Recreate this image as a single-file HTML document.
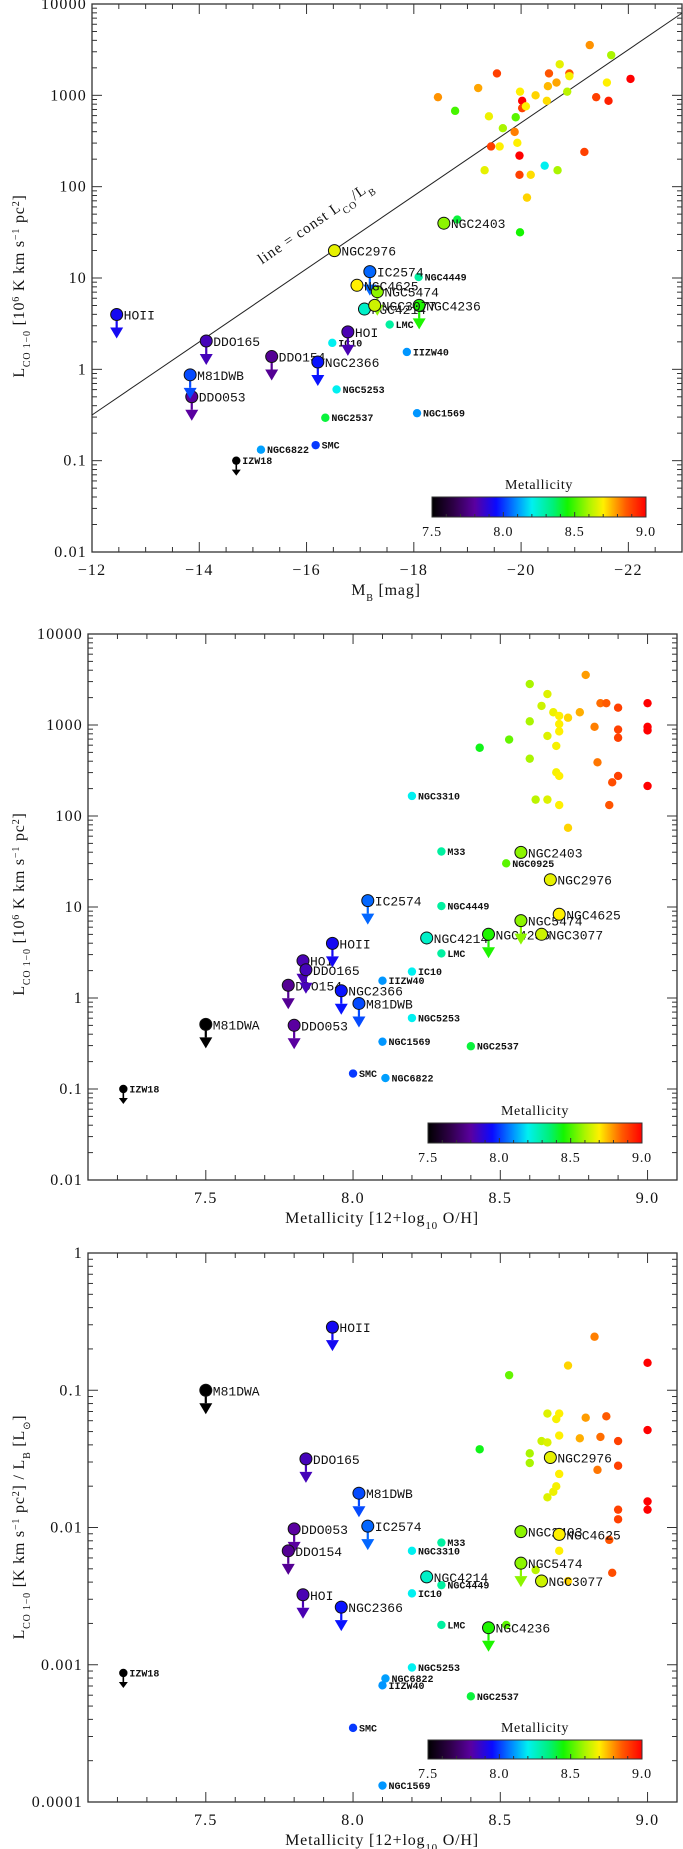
<!DOCTYPE html>
<html><head><meta charset="utf-8">
<style>
html,body{margin:0;padding:0;background:#fff;}
svg{display:block;}
text{font-family:"Liberation Serif",serif;fill:#111;}
.tk{font-size:16px;letter-spacing:1.2px;}
.ttl{font-size:16px;letter-spacing:0.8px;}
.lbl{font-family:"Liberation Mono",monospace;font-size:13px;}
.slbl{font-family:"Liberation Mono",monospace;font-size:10px;font-weight:bold;}
</style></head>
<body>
<svg id="fig" xmlns="http://www.w3.org/2000/svg" width="683" height="1849" viewBox="0 0 683 1849"></svg>
<script>
// ---- named galaxies ----
const galNames = ["IZW18","M81DWA","DDO053","DDO154","HOI","DDO165","HOII","NGC2366","M81DWB","IC2574","SMC","NGC6822","NGC1569","IIZW40","IC10","NGC5253","NGC3310","M33","NGC4449","LMC","NGC2537","NGC0925","NGC4214","NGC4236","NGC5474","NGC3077","NGC2403","NGC2976","NGC4625"];
const galZ = [7.22,7.50,7.80,7.78,7.83,7.84,7.93,7.96,8.02,8.05,8.00,8.11,8.10,8.10,8.20,8.20,8.20,8.30,8.30,8.30,8.40,8.52,8.25,8.46,8.57,8.64,8.57,8.67,8.70];
const galMB = [-14.69,null,-13.86,-15.35,-16.77,-14.13,-12.46,-16.21,-13.83,-17.18,-16.17,-15.15,-18.06,-17.87,-16.48,-16.56,null,null,-18.09,-17.55,-16.35,null,-17.08,-18.10,-17.32,-17.27,-18.56,-16.52,-16.94];
const galLogL = [-1.0,-0.29,-0.30,0.14,0.41,0.31,0.60,0.08,-0.06,1.07,-0.83,-0.88,-0.48,0.19,0.29,-0.22,2.22,1.61,1.01,0.49,-0.53,1.48,0.66,0.70,0.85,0.70,1.60,1.30,0.92];
const galLogR = [-3.06,-1.00,-2.01,-2.17,-2.49,-1.50,-0.54,-2.58,-1.75,-1.99,-3.46,-3.10,-3.88,-3.15,-2.48,-3.02,-2.17,-2.11,-2.42,-2.71,-3.23,null,-2.36,-2.73,-2.26,-2.39,-2.03,-1.49,-2.05];
const galLimit = [1,1,1,1,1,1,1,1,1,1,0,0,0,0,0,0,0,0,0,0,0,0,0,1,1,0,0,0,0];
const galBig = [0,1,1,1,1,1,1,1,1,1,0,0,0,0,0,0,0,0,0,0,0,0,1,1,1,1,1,1,1];
// ---- unlabeled galaxies, panel 1 (MB, logL, Z) ----
const p1MB = [-18.45,-18.77,-19.20,-19.40,-19.55,-19.66,-19.44,-19.60,-19.32,-19.90,-19.88,-19.93,-19.97,-19.97,-19.98,-20.02,-20.02,-20.09,-20.18,-20.11,-20.27,-20.44,-20.48,-20.50,-20.52,-20.66,-20.68,-20.72,-20.86,-20.90,-20.90,-21.18,-21.28,-21.40,-21.60,-21.63,-21.68,-22.04,-18.81,-19.98];
const p1LogL = [2.98,2.83,3.08,2.77,3.24,2.64,2.44,2.44,2.18,2.76,2.60,2.48,2.34,2.13,3.04,2.94,2.86,2.88,2.13,1.88,3.00,2.23,2.94,3.10,3.24,3.14,2.18,3.34,3.04,3.24,3.21,2.38,3.55,2.98,3.14,2.94,3.44,3.18,1.64,1.50];
const p1Z = [8.80,8.50,8.78,8.68,8.90,8.60,8.90,8.70,8.67,8.52,8.82,8.70,9.00,8.90,8.70,9.00,8.90,8.70,8.72,8.73,8.73,8.20,8.72,8.76,8.87,8.78,8.60,8.67,8.62,8.87,8.69,8.90,8.80,8.90,8.70,8.95,8.60,9.00,8.40,8.45];
// ---- unlabeled, panel 2 (Z, logL) ----
const p2Z = [8.43,8.53,8.60,8.60,8.60,8.62,8.64,8.66,8.66,8.66,8.68,8.69,8.69,8.70,8.70,8.70,8.70,8.70,8.73,8.73,8.77,8.79,8.82,8.83,8.84,8.86,8.87,8.88,8.90,8.90,8.90,8.90,9.00,9.00,9.00,9.00];
const p2LogL = [2.75,2.84,3.45,3.04,2.63,2.18,3.21,3.34,2.88,2.18,3.14,2.77,2.48,3.10,3.01,2.93,2.44,2.12,3.08,1.87,3.14,3.55,2.98,2.59,3.24,3.24,2.12,2.37,3.19,2.95,2.86,2.44,3.24,2.98,2.94,2.33];
// ---- unlabeled, panel 3 (Z, log LCO/LB) ----
const p3Z = [8.53,8.43,8.60,8.60,8.64,8.66,8.66,8.66,8.68,8.69,8.69,8.70,8.70,8.70,8.70,8.73,8.73,8.77,8.79,8.82,8.84,8.83,8.86,8.87,8.88,8.90,8.90,8.90,8.90,9.00,9.00,9.00,9.00,8.52,8.62];
const p3LogR = [-0.89,-1.43,-1.46,-1.53,-1.37,-1.38,-1.17,-1.78,-1.74,-1.70,-1.21,-1.17,-1.33,-1.61,-2.17,-0.82,-2.39,-1.35,-1.20,-0.61,-1.34,-1.58,-1.19,-2.09,-2.33,-1.37,-1.55,-1.87,-1.94,-0.80,-1.29,-1.81,-1.87,-2.71,-2.31];
// ---- tick labels ----
const yTicksL = ["0.01","0.1","1","10","100","1000","10000"];
const yTicksR = ["0.0001","0.001","0.01","0.1","1"];
const xTicksMB = ["\u221212","\u221214","\u221216","\u221218","\u221220","\u221222"];
const xTicksZ = ["7.5","8.0","8.5","9.0"];
const cbTicks = ["7.5","8.0","8.5","9.0"];
const cmStops = [[7.5,[0,0,0]],[7.65,[45,0,70]],[7.8,[90,0,160]],[7.95,[10,10,255]],[8.1,[0,150,255]],[8.2,[0,240,240]],[8.35,[0,240,120]],[8.45,[20,245,0]],[8.6,[170,245,0]],[8.7,[255,240,0]],[8.78,[255,165,0]],[8.86,[255,90,0]],[9.0,[255,0,0]]];

const NS="http://www.w3.org/2000/svg";
const svg=document.getElementById('fig');
function el(tag,attrs,parent){const e=document.createElementNS(NS,tag);for(const k in attrs)e.setAttribute(k,attrs[k]);(parent||svg).appendChild(e);return e;}
function cmap(z){if(z<=cmStops[0][0])return 'rgb(0,0,0)';for(let i=1;i<cmStops.length;i++){if(z<=cmStops[i][0]){const a=cmStops[i-1],b=cmStops[i];const t=(z-a[0])/(b[0]-a[0]);const c=a[1].map((v,j)=>Math.round(v+(b[1][j]-v)*t));return `rgb(${c.join(',')})`;}}return 'rgb(255,0,0)';}

function makePanel(P){
  const g=el('g',{});
  
  
  P.sx=v=>P.L+(v-P.xmin)/(P.xmax-P.xmin)*(P.R-P.L);
  P.sy=v=>P.B-(v-P.ymin)/(P.ymax-P.ymin)*(P.B-P.T);
  const box=el('rect',{x:P.L,y:P.T,width:P.R-P.L,height:P.B-P.T,fill:'none',stroke:'#333','stroke-width':1.3},g);
  
  
  const yt=el('g',{stroke:'#333','stroke-width':1},g);
  for(let d=P.ymin;d<=P.ymax;d++){
    const y=P.sy(d);
    el('line',{x1:P.L,x2:P.L+10,y1:y,y2:y},yt);el('line',{x1:P.R,x2:P.R-10,y1:y,y2:y},yt);
    if(d<P.ymax)for(let m=2;m<10;m++){const ym=P.sy(d+Math.log10(m));el('line',{x1:P.L,x2:P.L+5,y1:ym,y2:ym},yt);el('line',{x1:P.R,x2:P.R-5,y1:ym,y2:ym},yt);}
  }
  P.yLabels.forEach((s,i)=>{const t=el('text',{x:P.L-5,y:P.sy(P.ymin+i)+5,'text-anchor':'end',class:'tk'},g);t.textContent=s;
    
    });
  const xt=el('g',{stroke:'#333','stroke-width':1},g);
  const lo=Math.min(P.xmin,P.xmax),hi=Math.max(P.xmin,P.xmax);
  for(let k=Math.ceil(lo/P.xMinor-1e-6);k*P.xMinor<=hi+1e-6;k++){
    const v=k*P.xMinor;const x=P.sx(v);
    const major=Math.abs(v/P.xMajor-Math.round(v/P.xMajor))<1e-6;const len=major?10:5;
    el('line',{x1:x,x2:x,y1:P.B,y2:P.B-len},xt);el('line',{x1:x,x2:x,y1:P.T,y2:P.T+len},xt);
  }
  P.xLabels.forEach((s,i)=>{const t=el('text',{x:P.sx(P.xLabelStart+i*P.xLabelStep),y:P.B+23,'text-anchor':'middle',class:'tk'},g);t.textContent=s;
    
    });
  const xtT=el('text',{x:P.xTitleX,y:P.B+43,'text-anchor':'middle',class:'ttl'},g);xtT.innerHTML=P.xTitle;
  
  
  const ytT=el('text',{x:0,y:0,'text-anchor':'middle',class:'ttl',transform:`translate(24,${P.yTitleY}) rotate(-90)`},g);ytT.innerHTML=P.yTitle;
  
  
  const cb=el('g',{},g);
  
  
  const gid='grad'+P.id;const lg=el('linearGradient',{id:gid,x1:0,x2:1,y1:0,y2:0},el('defs',{},cb));
  cmStops.forEach(s=>el('stop',{offset:((s[0]-7.5)/1.5).toFixed(3),'stop-color':cmap(s[0])},lg));
  el('rect',{x:P.cbL,y:P.cbT,width:P.cbR-P.cbL,height:P.cbH,fill:`url(#${gid})`,stroke:'#333','stroke-width':1},cb);
  for(let k=0;k<=15;k++){const x=P.cbL+k/15*(P.cbR-P.cbL);el('line',{x1:x,x2:x,y1:P.cbT+P.cbH,y2:P.cbT+P.cbH-(k%5==0?5:3),stroke:'#333'},cb);}
  const ct=el('text',{x:(P.cbL+P.cbR)/2,y:P.cbT-8,'text-anchor':'middle',style:'font-size:14px;letter-spacing:0.6px'},cb);ct.textContent='Metallicity';
  
  
  cbTicks.forEach((s,i)=>{const t=el('text',{x:P.cbL+i/3*(P.cbR-P.cbL),y:P.cbT+P.cbH+19,'text-anchor':'middle',style:'font-size:14px;letter-spacing:0.8px'},cb);t.textContent=s;
    
    });
  P.g=g;return P;
}
function point(P,xv,yv,z,big,limit,label,layer){
  const x=P.sx(xv),y=P.sy(yv),c=cmap(z);
  const pg=el('g',{},layer);
  
  
  const r=big?6:4.2;
  if(limit){const tip=big?24:15,top=big?13:9,w=big?6.5:4.5;
    el('line',{x1:x,x2:x,y1:y,y2:y+top,stroke:c,'stroke-width':big?2.2:1.6},pg);
    el('polygon',{points:`${x-w},${y+top} ${x+w},${y+top} ${x},${y+tip}`,fill:c},pg);}
  el('circle',{cx:x,cy:y,r:r,fill:c,stroke:big?'#111':'none','stroke-width':1},pg);
  if(label){const t=el('text',{x:x+(big?7:6),y:y+(big?5:3.5),class:big?'lbl':'slbl'},pg);t.textContent=label;}
}
const zTitle='Metallicity [12+log<tspan baseline-shift="sub" font-size="11">10</tspan> O/H]';
const lcoTitle='L<tspan baseline-shift="sub" font-size="10">CO 1\u22120</tspan> [10<tspan baseline-shift="super" font-size="10">6</tspan> K km s<tspan baseline-shift="super" font-size="10">\u22121</tspan> pc<tspan baseline-shift="super" font-size="10">2</tspan>]';

// Panel 1
const P1=makePanel({id:1,name:'panel-lco-vs-mb',L:92,R:682,T:4,B:552,xmin:-12,xmax:-23,ymin:-2,ymax:4,xMajor:2,xMinor:0.5,
 xLabels:xTicksMB,xLabelStart:-12,xLabelStep:-2,yLabels:yTicksL,xTitle:'M<tspan baseline-shift="sub" font-size="10">B</tspan> [mag]',xTitleX:386,yTitle:lcoTitle,yTitleY:286,
 cbL:432,cbR:646,cbT:497,cbH:20});
{const x1=-12,x2=-23;const l=el('line',{x1:P1.sx(x1),y1:P1.sy(-0.5+0.4*(-x1-12)),x2:P1.sx(x2),y2:P1.sy(-0.5+0.4*(-x2-12)),stroke:'#222','stroke-width':1},P1.g);
 
 
 const t=el('text',{x:0,y:0,'text-anchor':'middle',style:'font-size:15px;letter-spacing:1px',transform:'translate(318,226) rotate(-34.5)'},P1.g);
 t.innerHTML='line = const L<tspan baseline-shift="sub" font-size="10">CO</tspan>/L<tspan baseline-shift="sub" font-size="10">B</tspan>';
 
 }
const L1=el('g',{},P1.g);
p1MB.forEach((m,i)=>point(P1,m,p1LogL[i],p1Z[i],false,false,null,L1));
[0,1].forEach(pass=>galNames.forEach((n,i)=>{if(galBig[i]!==pass||galMB[i]===null)return;point(P1,galMB[i],galLogL[i],galZ[i],galBig[i],galLimit[i],n,L1);}));

// Panel 2
const P2=makePanel({id:2,name:'panel-lco-vs-metallicity',L:88,R:677,T:634,B:1180,xmin:7.1,xmax:9.1,ymin:-2,ymax:4,xMajor:0.5,xMinor:0.1,
 xLabels:xTicksZ,xLabelStart:7.5,xLabelStep:0.5,yLabels:yTicksL,xTitle:zTitle,xTitleX:382,yTitle:lcoTitle,yTitleY:904,
 cbL:428,cbR:642,cbT:1123,cbH:20});
const L2=el('g',{},P2.g);
p2Z.forEach((z,i)=>point(P2,z,p2LogL[i],z,false,false,null,L2));
[0,1].forEach(pass=>galNames.forEach((n,i)=>{if(galBig[i]!==pass)return;point(P2,galZ[i],galLogL[i],galZ[i],galBig[i],galLimit[i],n,L2);}));

// Panel 3
const P3=makePanel({id:3,name:'panel-lco-lb-ratio-vs-metallicity',L:88,R:677,T:1253,B:1802,xmin:7.1,xmax:9.1,ymin:-4,ymax:0,xMajor:0.5,xMinor:0.1,
 xLabels:xTicksZ,xLabelStart:7.5,xLabelStep:0.5,yLabels:yTicksR,xTitle:zTitle,xTitleX:382,
 yTitle:'L<tspan baseline-shift="sub" font-size="10">CO 1\u22120</tspan> [K km s<tspan baseline-shift="super" font-size="10">\u22121</tspan> pc<tspan baseline-shift="super" font-size="10">2</tspan>] / L<tspan baseline-shift="sub" font-size="10">B</tspan> [L<tspan baseline-shift="sub" font-size="10">\u2299</tspan>]',yTitleY:1527,
 cbL:428,cbR:642,cbT:1740,cbH:19});
const L3=el('g',{},P3.g);
p3Z.forEach((z,i)=>point(P3,z,p3LogR[i],z,false,false,null,L3));
[0,1].forEach(pass=>galNames.forEach((n,i)=>{if(galBig[i]!==pass||galLogR[i]===null)return;point(P3,galZ[i],galLogR[i],galZ[i],galBig[i],galLimit[i],n,L3);}));
</script>
</body></html>
